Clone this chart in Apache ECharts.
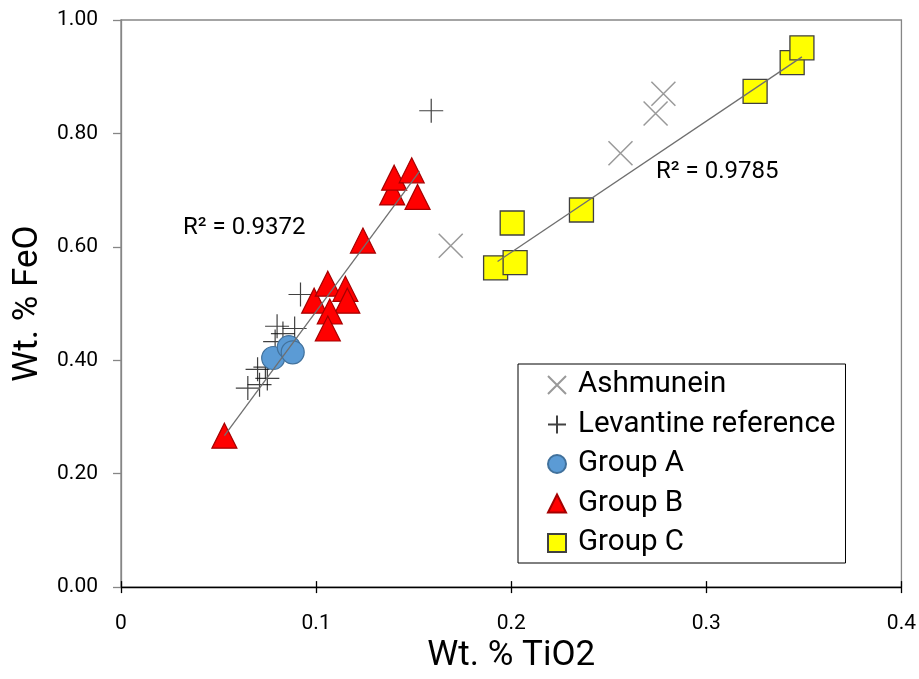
<!DOCTYPE html>
<html>
<head>
<meta charset="utf-8">
<script src="https://cdn.jsdelivr.net/npm/echarts@6/dist/echarts.min.js"></script>
<style>
html,body{margin:0;padding:0;background:#fff;}
#chart{width:919px;height:679px;}
</style>
</head>
<body>
<div id="chart"></div>
<script>
// ---- data ----
const seriesNames = ['Ashmunein', 'Levantine reference', 'Group A', 'Group B', 'Group C'];

const ashTiO2 = [0.169, 0.256, 0.274, 0.278];
const ashFeO  = [0.602, 0.765, 0.835, 0.870];

const levTiO2 = [0.159, 0.092, 0.080, 0.089, 0.083, 0.079, 0.074, 0.070, 0.075, 0.071, 0.065];
const levFeO  = [0.840, 0.516, 0.460, 0.456, 0.447, 0.433, 0.388, 0.384, 0.368, 0.357, 0.351];

const aTiO2 = [0.078, 0.086, 0.088];
const aFeO  = [0.404, 0.423, 0.414];

const bTiO2 = [0.053, 0.099, 0.106, 0.115, 0.116, 0.107, 0.106, 0.124, 0.139, 0.140, 0.149, 0.152];
const bFeO  = [0.267, 0.505, 0.535, 0.526, 0.505, 0.486, 0.456, 0.611, 0.696, 0.722, 0.735, 0.688];

const cTiO2 = [0.192, 0.202, 0.2005, 0.236, 0.325, 0.344, 0.349];
const cFeO  = [0.563, 0.572, 0.642, 0.665, 0.874, 0.925, 0.951];

// trendline end points (TiO2, FeO)
const trendBTiO2 = [0.053, 0.153];
const trendBFeO  = [0.267, 0.733];
const trendCTiO2 = [0.193, 0.349];
const trendCFeO  = [0.574, 0.935];

const r2Labels = ['R\u00B2 = 0.9372', 'R\u00B2 = 0.9785'];

const xTickLabels = ['0', '0.1', '0.2', '0.3', '0.4'];
const yTickLabels = ['0.00', '0.20', '0.40', '0.60', '0.80', '1.00'];

// ---- build ----
const pairs = (xs, ys) => xs.map((x, i) => [x, ys[i]]);
const FONT = 'Roboto';

const chart = echarts.init(document.getElementById('chart'), null, {renderer: 'canvas'});

const xAxisBase = {
  type: 'value', min: 0, max: 0.4, interval: 0.1, gridIndex: 0, position: 'bottom',
  splitLine: {show: false}
};

const option = {
  backgroundColor: '#ffffff',
  animation: false,
  grid: {left: 121, right: 16, top: 20, bottom: 89, show: true, borderColor: '#868686', borderWidth: 1.3, backgroundColor: 'transparent'},
  xAxis: [
    Object.assign({}, xAxisBase, {
      name: 'Wt. % TiO2', nameLocation: 'middle', nameGap: 50,
      nameTextStyle: {fontFamily: FONT, fontSize: 35, color: '#000'},
      axisLine: {show: true, onZero: false, lineStyle: {color: '#000', width: 1.3}},
      axisTick: {show: true, inside: false, length: 6, lineStyle: {color: '#000', width: 1.3}},
      axisLabel: {show: true, margin: 26, fontFamily: FONT, fontSize: 21, color: '#000',
        formatter: v => xTickLabels[Math.round(v / 0.1)]}
    }),
    Object.assign({}, xAxisBase, {
      axisLine: {show: false},
      axisTick: {show: true, inside: true, length: 6, lineStyle: {color: '#000', width: 1.3}},
      axisLabel: {show: false}
    })
  ],
  yAxis: {
    type: 'value', min: 0, max: 1, interval: 0.2,
    name: 'Wt. % FeO', nameLocation: 'middle', nameGap: 68, nameRotate: 90,
    nameTextStyle: {fontFamily: FONT, fontSize: 35, color: '#000'},
    splitLine: {show: false},
    axisLine: {show: true, onZero: false, lineStyle: {color: '#868686', width: 1.3}},
    axisTick: {show: true, inside: false, length: 8, lineStyle: {color: '#868686', width: 1.3}},
    axisLabel: {margin: 23, fontFamily: FONT, fontSize: 21, color: '#000',
      formatter: v => yTickLabels[Math.round(v / 0.2)]}
  },
  legend: {
    data: seriesNames,
    orient: 'vertical',
    left: 518, top: 364,
    itemWidth: 18, itemHeight: 18, itemGap: 9.5,
    padding: [6, 10, 5, 29],
    borderColor: '#000', borderWidth: 1, backgroundColor: '#fff',
    textStyle: {fontFamily: FONT, fontSize: 29.5, color: '#000', lineHeight: 30, padding: [0, 0, 0, 7]},
    selectedMode: false
  },
  series: [
    {
      name: seriesNames[0], type: 'scatter', data: pairs(ashTiO2, ashFeO),
      symbol: 'path://M0,0 L10,10 M10,0 L0,10', symbolSize: 24,
      itemStyle: {color: 'rgba(0,0,0,0)', borderColor: '#7f7f7f', borderWidth: 1.5},
      z: 2
    },
    {
      name: seriesNames[1], type: 'scatter', data: pairs(levTiO2, levFeO),
      symbol: 'path://M5,0 L5,10 M0,5 L10,5', symbolSize: 24,
      itemStyle: {color: 'rgba(0,0,0,0)', borderColor: '#111', borderWidth: 1.2},
      z: 2
    },
    {
      name: seriesNames[2], type: 'scatter', data: pairs(aTiO2, aFeO),
      symbol: 'circle', symbolSize: 23,
      itemStyle: {color: '#5B9BD5', borderColor: '#41719C', borderWidth: 1.2, opacity: 1},
      z: 3
    },
    {
      name: seriesNames[3], type: 'scatter', data: pairs(bTiO2, bFeO),
      symbol: 'triangle', symbolSize: 25,
      itemStyle: {color: '#FF0000', borderColor: '#A50000', borderWidth: 1.2, opacity: 1},
      z: 3
    },
    {
      name: seriesNames[4], type: 'scatter', data: pairs(cTiO2, cFeO),
      symbol: 'rect', symbolSize: 24,
      itemStyle: {color: '#FFFF00', borderColor: '#404040', borderWidth: 1.3, opacity: 1},
      z: 3
    },
    {
      name: 'trendB', type: 'line', data: pairs(trendBTiO2, trendBFeO),
      symbol: 'none', lineStyle: {color: '#6f6f6f', width: 1.3}, silent: true, z: 4
    },
    {
      name: 'trendC', type: 'line', data: pairs(trendCTiO2, trendCFeO),
      symbol: 'none', lineStyle: {color: '#6f6f6f', width: 1.3}, silent: true, z: 4
    }
  ],
  graphic: [
    {type: 'text', left: 183, top: 216, z: 10,
      style: {text: r2Labels[0], font: '24px Roboto', fill: '#000'}},
    {type: 'text', left: 656, top: 160, z: 10,
      style: {text: r2Labels[1], font: '24px Roboto', fill: '#000'}}
  ]
};

chart.setOption(option);
</script>
</body>
</html>
